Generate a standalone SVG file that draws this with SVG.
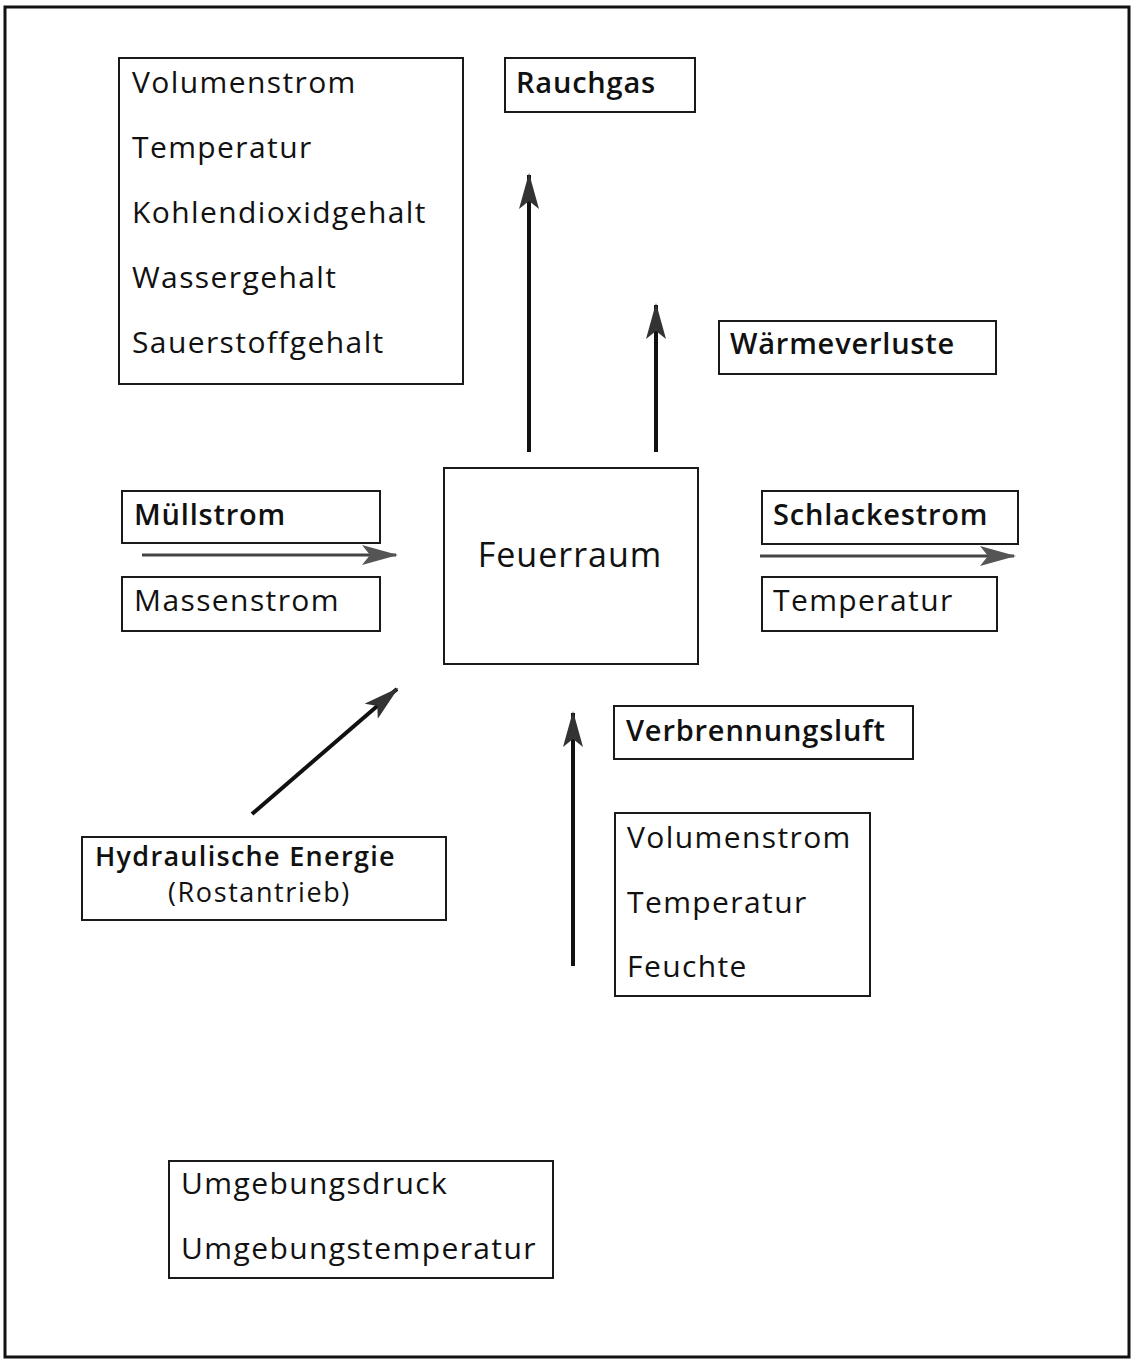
<svg xmlns="http://www.w3.org/2000/svg" width="1134" height="1360" viewBox="0 0 1134 1360">
<style>
  .box{fill:#fff;stroke:#1a1a1a;stroke-width:2}
  .t{font-family:"Open Sans","Liberation Sans",sans-serif;font-size:30px;letter-spacing:1.4px;fill:#111}
  .b{font-family:"Open Sans","Liberation Sans",sans-serif;font-size:29px;font-weight:600;letter-spacing:0.8px;fill:#111}
  .c{stroke:#111;stroke-width:4;fill:none}
  .h{stroke:#444;stroke-width:3;fill:none}
</style>
<defs>
  <marker id="ah2" viewBox="0 0 36 20" refX="34" refY="10" markerWidth="36" markerHeight="20" orient="auto" markerUnits="userSpaceOnUse">
    <path d="M0,0 L36,10 L0,20 L8,10 Z" fill="#333"/>
  </marker>
  <marker id="ah3" viewBox="0 0 36 20" refX="34" refY="10" markerWidth="36" markerHeight="20" orient="auto" markerUnits="userSpaceOnUse">
    <path d="M0,0 L36,10 L0,20 L8,10 Z" fill="#555"/>
  </marker>
</defs>
<rect x="0" y="0" width="1134" height="1360" fill="#fff"/>
<rect id="frame" x="5" y="7" width="1124" height="1350" fill="none" stroke="#111" stroke-width="3"/>

<g id="rauchgas-params">
  <rect class="box" x="119" y="58" width="344" height="326"/>
  <text class="t" x="132" y="93">Volumenstrom</text>
  <text class="t" x="132" y="158">Temperatur</text>
  <text class="t" x="132" y="223">Kohlendioxidgehalt</text>
  <text class="t" x="132" y="288">Wassergehalt</text>
  <text class="t" x="132" y="353">Sauerstoffgehalt</text>
</g>
<g id="rauchgas">
  <rect class="box" x="505" y="58" width="190" height="54"/>
  <text class="b" x="516" y="93">Rauchgas</text>
</g>
<g id="waermeverluste">
  <rect class="box" x="719" y="321" width="277" height="53"/>
  <text class="b" x="730" y="354">Wärmeverluste</text>
</g>
<g id="feuerraum">
  <rect class="box" x="444" y="468" width="254" height="196"/>
  <text x="570" y="567" text-anchor="middle" style="font-family:'Open Sans','Liberation Sans',sans-serif;font-size:34px;font-weight:500;letter-spacing:1px;fill:#111">Feuerraum</text>
</g>
<g id="muellstrom">
  <rect class="box" x="122" y="491" width="258" height="52"/>
  <text class="b" x="134" y="525">Müllstrom</text>
</g>
<g id="massenstrom">
  <rect class="box" x="122" y="577" width="258" height="54"/>
  <text class="t" x="134" y="611">Massenstrom</text>
</g>
<g id="schlackestrom">
  <rect class="box" x="762" y="491" width="256" height="53"/>
  <text class="b" x="773" y="525">Schlackestrom</text>
</g>
<g id="schlacke-temperatur">
  <rect class="box" x="762" y="577" width="235" height="54"/>
  <text class="t" x="773" y="611">Temperatur</text>
</g>
<g id="verbrennungsluft">
  <rect class="box" x="614" y="706" width="299" height="53"/>
  <text class="b" x="626" y="741">Verbrennungsluft</text>
</g>
<g id="luft-params">
  <rect class="box" x="615" y="813" width="255" height="183"/>
  <text class="t" x="627" y="848">Volumenstrom</text>
  <text class="t" x="627" y="913">Temperatur</text>
  <text class="t" x="627" y="977">Feuchte</text>
</g>
<g id="hydraulik">
  <rect class="box" x="82" y="837" width="364" height="83"/>
  <text class="b" x="95" y="866" style="font-size:27px;letter-spacing:1.3px">Hydraulische Energie</text>
  <text class="t" x="168" y="902" style="font-size:27px;letter-spacing:1.6px">(Rostantrieb)</text>
</g>
<g id="umgebung">
  <rect class="box" x="169" y="1161" width="384" height="117"/>
  <text class="t" x="181" y="1194">Umgebungsdruck</text>
  <text class="t" x="181" y="1259">Umgebungstemperatur</text>
</g>

<g id="connectors">
  <line class="c" x1="529" y1="452" x2="529" y2="175" marker-end="url(#ah2)"/>
  <line class="c" x1="656" y1="452" x2="656" y2="305" marker-end="url(#ah2)"/>
  <line class="h" x1="142" y1="555" x2="396" y2="555" marker-end="url(#ah3)"/>
  <line class="h" x1="760" y1="556" x2="1014" y2="556" marker-end="url(#ah3)"/>
  <line class="c" x1="252" y1="814" x2="397" y2="689" marker-end="url(#ah2)"/>
  <line class="c" x1="573" y1="966" x2="573" y2="713" marker-end="url(#ah2)"/>
</g>
</svg>
